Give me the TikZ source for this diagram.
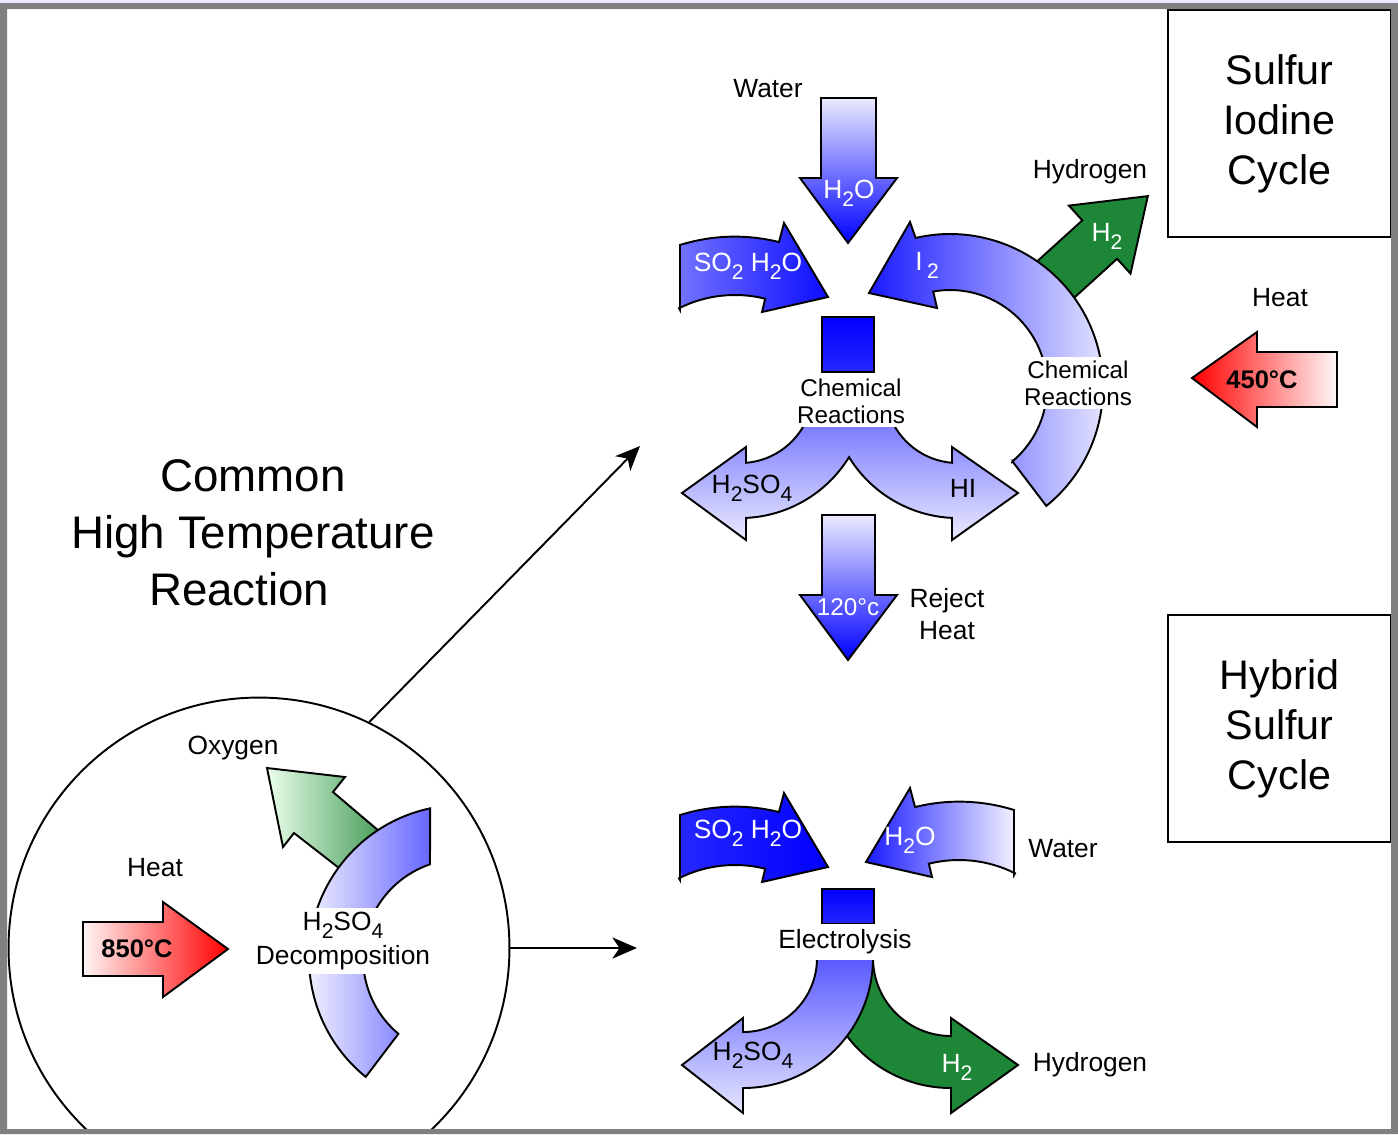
\documentclass[tikz,border=0pt]{standalone}
\usepackage{fontspec}
\setmainfont{Liberation Sans}
\usetikzlibrary{arrows.meta}
\definecolor{hgreen}{RGB}{30,135,55}
\definecolor{framegray}{RGB}{128,128,128}
\newcommand{\chsub}[1]{\raisebox{-0.3em}{\fontsize{12}{12}\selectfont #1}}

\begin{document}
\begin{tikzpicture}[x=0.02cm,y=-0.02cm,
	blk/.style={draw=black,line width=1.1pt,line join=miter},
	lbl/.style={font=\fontsize{15}{18}\selectfont,inner sep=1pt},
	wlbl/.style={lbl,text=white},
	chem/.style={font=\fontsize{13.8}{15.4}\selectfont,align=center,fill=white,inner sep=2pt},
	temp/.style={font=\bfseries\fontsize{14.5}{17}\selectfont,inner sep=1pt},
	big/.style={font=\fontsize{23.5}{28.5}\selectfont,align=center},
	conn/.style={line width=1.1pt,-{Stealth[length=14pt,width=12pt,inset=4pt]}}]

\useasboundingbox (0,0) rectangle (1398,1134);
\fill[white] (0,0) rectangle (1398,1134);

% high temperature reaction
\begin{scope}
\clip (7,9) rectangle (1391,1129);
\node[draw,circle,line width=1.1pt,minimum size=10.02cm] (hot) at (259,948) {};
\end{scope}
\node[font=\fontsize{26}{32.4}\selectfont,align=center] (common) at (253,533) {Common\\High Temperature\\Reaction\hspace*{0.55cm}};
\draw[blk,left color=green!8,right color=hgreen!85] (386,837) -- (333,792) -- (345,777) -- (267,768)
	-- (283,847) -- (294,833) -- (348,875) -- cycle;
\draw[blk,left color=white,right color=blue!60] (430.2,808.3) arc[start angle=-102,end angle=-231,radius=153]
	-- (398.4,1033.8) arc[start angle=-230,end angle=-108.9,radius=99] -- cycle;
\node[lbl,fill=white,align=center,inner sep=2pt,font=\fontsize{15}{19.5}\selectfont] (decomp) at (343,941) {H\chsub{2}SO\chsub{4}\\Decomposition};
\node[lbl] (oxy) at (233,748) {Oxygen};
\node[lbl] (heatA) at (155,868) {Heat};
\draw[blk,left color=red!4,right color=red] (83,922) -- (163,922) -- (163,902) -- (228,949)
	-- (163,997) -- (163,976) -- (83,976) -- cycle;
\node[temp] (tA) at (137,949) {850°C};

% sulfur iodine cycle
\draw[blk,top color=blue!8,bottom color=blue] (821,98) -- (876,98) -- (876,178) -- (897,178)
	-- (848,243) -- (800,178) -- (821,178) -- cycle;
\draw[blk,left color=blue!55,right color=blue!95] (680,310) -- (680,245) arc[start angle=-107.4,end angle=-76,radius=183]
	-- (784,223) -- (828,297) -- (762,312) -- (765.2,298.7) arc[start angle=-76,end angle=-116.6,radius=125] -- cycle;
\draw[blk,fill=hgreen] (1026.8,270.7) -- (1082.3,220.4) -- (1068.9,205.6) -- (1147.8,196.1)
	-- (1130.5,273.6) -- (1117.1,258.8) -- (1061.6,309.1) -- cycle;
\draw[blk,left color=blue!90,right color=blue!5] (1012.4,461.3) -- (1046.3,505.9) arc[start angle=51,end angle=-103,radius=153]
	-- (910,222) -- (869,293) -- (937,308) -- (933.2,291.5) arc[start angle=-100,end angle=50,radius=97] -- cycle;
\draw[blk,top color=blue,bottom color=blue!85] (822,317) rectangle (874,372);
\draw[blk,top color=blue!55,bottom color=blue!8] (682,493) -- (746,447) -- (746,462.8)
	arc[start angle=85.3,end angle=20,radius=73] -- (889.4,415) arc[start angle=160,end angle=94.7,radius=73]
	-- (952,447) -- (1018,493) -- (952,540) -- (952,517.9) arc[start angle=92.7,end angle=148.4,radius=128]
	arc[start angle=31.6,end angle=87.3,radius=128] -- (746,540) -- cycle;
\draw[blk,top color=blue!8,bottom color=blue] (822,515) -- (875,515) -- (875,595) -- (897,595)
	-- (848,660) -- (800,595) -- (822,595) -- cycle;
\draw[blk,left color=red,right color=red!3] (1337,352) -- (1257,352) -- (1257,332) -- (1192,378)
	-- (1257,427) -- (1257,407) -- (1337,407) -- cycle;

\node[chem] (chemA) at (851,401) {Chemical\\Reactions};
\node[chem] (chemB) at (1078,383) {Chemical\\Reactions};
\node[lbl] (waterA) at (768,89) {Water};
\node[wlbl] (h2oA) at (849,193) {H\chsub{2}O};
\node[wlbl] (so2A) at (748,266) {SO\chsub{2} H\chsub{2}O};
\node[wlbl] (iodine) at (927,265) {I\,\chsub{2}};
\node[lbl] (hydroA) at (1090,172) {Hydrogen};
\node[wlbl] (h2A) at (1107,236) {H\chsub{2}};
\node[lbl] (heatB) at (1280,298) {Heat};
\node[temp] (tB) at (1262,380) {450°C};
\node[lbl] (sulfA) at (752,488) {H\chsub{2}SO\chsub{4}};
\node[lbl] (hi) at (963,488) {HI};
\node[wlbl,font=\fontsize{13.8}{16}\selectfont] (tC) at (848,607) {120°c};
\node[lbl,align=center] (reject) at (947,614) {Reject\\Heat};

% hybrid sulfur cycle
\draw[blk,left color=blue!85,right color=blue] (680,880) -- (680,815) arc[start angle=-107.4,end angle=-76,radius=183]
	-- (784,793) -- (828,867) -- (762,882) -- (765.2,868.7) arc[start angle=-76,end angle=-116.6,radius=125] -- cycle;
\draw[blk,left color=blue!90,right color=blue!5] (1014,875) -- (1014,810) arc[start angle=-72.6,end angle=-104,radius=183]
	-- (910,788) -- (866,862) -- (932,877) -- (928.8,863.7) arc[start angle=-104,end angle=-63.4,radius=125] -- cycle;
\draw[blk,top color=blue,bottom color=blue!85] (822,889) rectangle (874,924);
\draw[blk,fill=hgreen] (873,958) arc[start angle=180,end angle=90,radius=78] -- (951,1018) -- (1018,1065)
	-- (951,1113) -- (951,1088) arc[start angle=90,end angle=180,radius=130] -- cycle;
\draw[blk,top color=blue!65,bottom color=blue!10] (817,958) arc[start angle=0,end angle=90,radius=74] -- (743,1018)
	-- (682,1065) -- (743,1113) -- (743,1088) arc[start angle=90,end angle=0,radius=130] -- cycle;

\node[lbl,fill=white,minimum height=0.68cm,inner sep=3pt] (elec) at (845,942) {Electrolysis};
\node[wlbl] (so2B) at (748,833) {SO\chsub{2} H\chsub{2}O};
\node[wlbl] (h2oB) at (910,840) {H\chsub{2}O};
\node[lbl] (waterB) at (1063,849) {Water};
\node[lbl] (sulfB) at (753,1055) {H\chsub{2}SO\chsub{4}};
\node[wlbl] (h2B) at (957,1067) {H\chsub{2}};
\node[lbl] (hydroB) at (1090,1065) {Hydrogen};

% cycle boxes
\node[draw,line width=1.1pt,minimum width=4.46cm,minimum height=4.54cm,big] (si) at (1279.5,123.5) {Sulfur\\Iodine\\Cycle};
\node[draw,line width=1.1pt,minimum width=4.46cm,minimum height=4.54cm,big] (hs) at (1279.5,728.5) {Hybrid\\Sulfur\\Cycle};

% connectors
\coordinate (siIn) at (640,446);
\coordinate (hsIn) at (637,948);
\draw[conn] (hot.64) -- (siIn);
\draw[conn] (hot.east) -- (hsIn);

% frame
\fill[framegray,even odd rule] (0,0) rectangle (1398,1134) (7,9) rectangle (1391,1129);
\fill[blue!8] (0,0) rectangle (1398,3);
\end{tikzpicture}
\end{document}
